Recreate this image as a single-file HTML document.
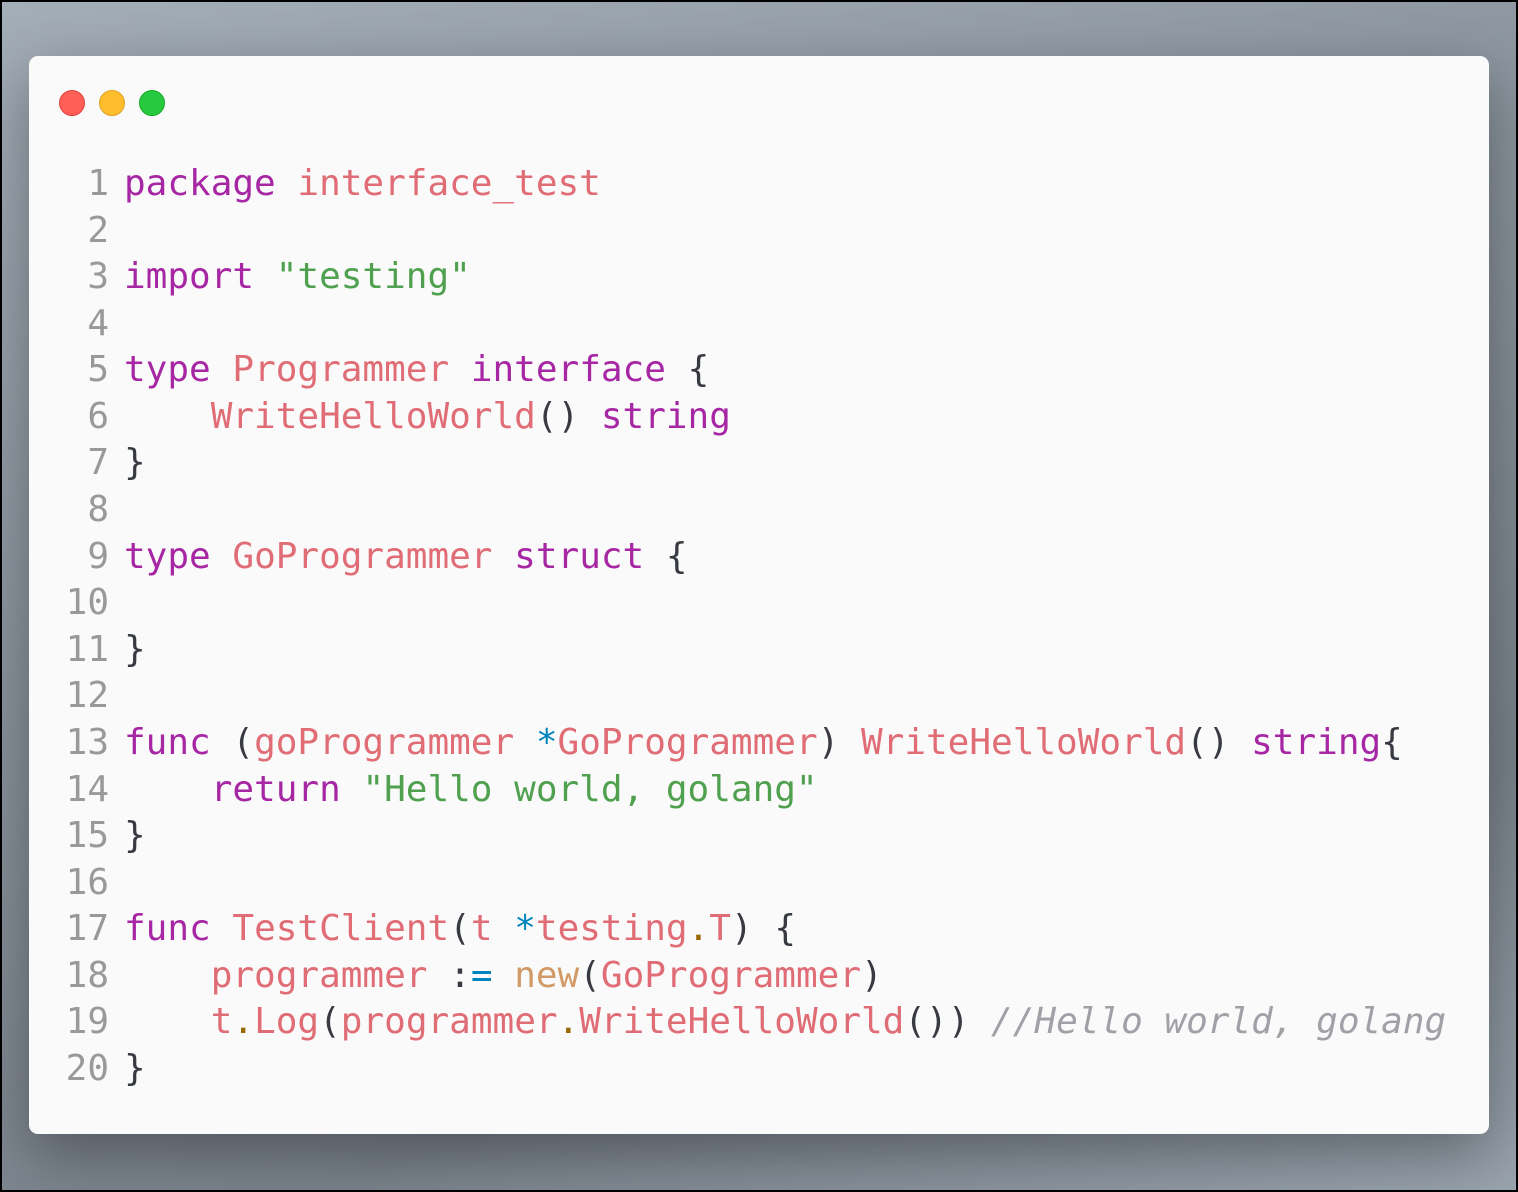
<!DOCTYPE html>
<html><head><meta charset="utf-8"><style>
html,body{margin:0;padding:0}
body{width:1518px;height:1192px;overflow:hidden;position:relative;box-sizing:border-box;border:2px solid #000;
background:linear-gradient(160deg,#a4aeb8 0%,#8a939c 40%,#7a828b 75%,#9aa4ae 100%);}
.card{position:absolute;left:27px;top:54px;width:1460px;height:1078px;background:#fafafa;border-radius:9px;
box-shadow:0 20px 60px rgba(0,0,0,0.35);}
.dot{position:absolute;top:34px;width:24px;height:24px;border-radius:50%}
pre{position:absolute;margin:0;top:105px;font-family:"DejaVu Sans Mono","Liberation Mono",monospace;font-size:36px;line-height:46.58px;}
.ln{left:0;width:80px;text-align:right;color:#999}
.code{left:95px;color:#383a42}
.k{color:#a626a4}.r{color:#e06c75}.g{color:#50a14f}.o{color:#0184bc}.d{color:#986801}.n{color:#d19a66}.c{color:#a0a1a7;font-style:italic}
</style></head><body>
<div class="card">
<div class="dot" style="left:30px;background:#ff5f56;border:1px solid #e0443e"></div>
<div class="dot" style="left:70px;background:#ffbd2e;border:1px solid #dea123"></div>
<div class="dot" style="left:110px;background:#27c93f;border:1px solid #1aab29"></div>
<pre class="ln">1
2
3
4
5
6
7
8
9
10
11
12
13
14
15
16
17
18
19
20</pre>
<pre class="code"><span class="k">package</span> <span class="r">interface_test</span>

<span class="k">import</span> <span class="g">"testing"</span>

<span class="k">type</span> <span class="r">Programmer</span> <span class="k">interface</span> {
    <span class="r">WriteHelloWorld</span>() <span class="k">string</span>
}

<span class="k">type</span> <span class="r">GoProgrammer</span> <span class="k">struct</span> {

}

<span class="k">func</span> (<span class="r">goProgrammer</span> <span class="o">*</span><span class="r">GoProgrammer</span>) <span class="r">WriteHelloWorld</span>() <span class="k">string</span>{
    <span class="k">return</span> <span class="g">"Hello world, golang"</span>
}

<span class="k">func</span> <span class="r">TestClient</span>(<span class="r">t</span> <span class="o">*</span><span class="r">testing</span><span class="d">.</span><span class="r">T</span>) {
    <span class="r">programmer</span> :<span class="o">=</span> <span class="n">new</span>(<span class="r">GoProgrammer</span>)
    <span class="r">t</span><span class="d">.</span><span class="r">Log</span>(<span class="r">programmer</span><span class="d">.</span><span class="r">WriteHelloWorld</span>()) <span class="c">//Hello world, golang</span>
}</pre>
</div>
</body></html>
